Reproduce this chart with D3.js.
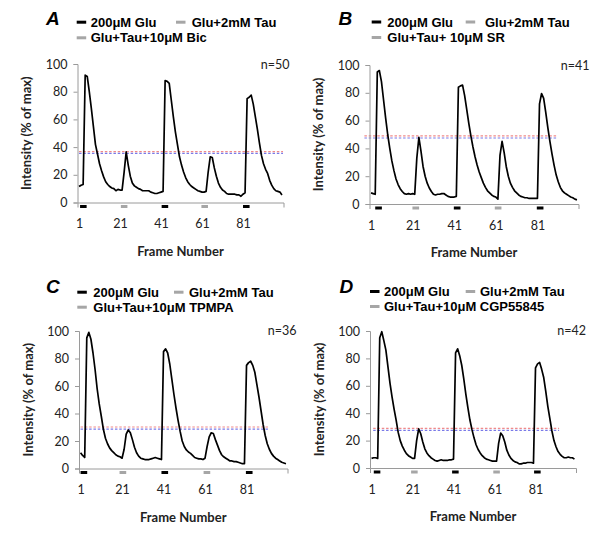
<!DOCTYPE html>
<html><head><meta charset="utf-8">
<script src="https://cdn.jsdelivr.net/npm/d3@7/dist/d3.min.js"></script>
<style>body{margin:0;background:#fff} svg{display:block}</style>
</head><body><svg id="c" width="600" height="542"></svg>
<script>
const panelLetters = ["A", "B", "C", "D"];
const nLabels = ["n=50", "n=41", "n=36", "n=42"];
const legendGlu = "200μM Glu";
const legendTau = "Glu+2mM Tau";
const legendDrug = ["Glu+Tau+10μM Bic", "Glu+Tau+ 10μM SR", "Glu+Tau+10μM TPMPA", "Glu+Tau+10μM CGP55845"];
const xTickValues = [1, 21, 41, 61, 81];
const yTickValues = [0, 20, 40, 60, 80, 100];
const xTitle = "Frame Number";
const yTitle = "Intensity (% of max)";

const seriesA = [11.5,12.5,13,92,91,80,68,55,42,35, 28,23,18.5,15,13,11.5,10.5,10,8.5,9.5, 9,9,22,36.5,27,19,14,12,11,10, 9.5,8.5,8.5,8.5,8.5,7.5,7,6.5,6.5,7, 7.5,8,88,87.5,86,74,62,51,42,33, 27,22,18,15,13,11.5,10.5,9.5,8.5,8, 7.5,7.5,8,22,33,32.5,25,19,14,11, 9,8,6.5,6,6,6,6,5.5,5.5,4.5, 6,7,75,76,77.5,71,62,53,43,34, 28,24,21,16,12.5,10,8.5,8,7.5,5.5];
const seriesB = [8,7.5,7,95,96,88,75,62,50,40, 31,24,18,14,11,9,7.5,7,7.5,7, 7.5,7,33,48,38,27,20,15,11.5,9, 7,6.5,7,7,7.5,7.5,6.5,5.5,5,5, 5,5.5,84,85,85.5,78,68,58,49,41, 34,28,23,19,15,12,9.5,8,6.5,5.5, 5,3.5,35,45,37,27,20,15,12,9.5, 8,6.5,5.5,5,4.5,4.5,4,4,4,4, 4,72,79.5,76,66,55,45,36,28,21, 16,12,9.5,8,7,6,5,4.5,3.5,3];
const seriesC = [11.5,9.5,8,95,99,94,84,72,58,47, 38,28.5,22,18,15,13,11.5,10,9,8.5, 7.5,14,25,28,26,21,15.5,11.5,9,7.5, 7,6.5,6.5,6.5,7,7.5,8,7.5,7,6.5, 85,87,84,76,65,54,44,35,27,20, 16,13.5,12,11,9.5,8,7.5,7,7,6.5, 7.5,16,23,26,25.5,21,17,13,10,8.5, 7.5,6.5,5.5,5.5,5,5,4.5,4,3.5,3.5, 75,77,78,75,70,61,52,42,32,24, 18,14,11,9,7.5,6.5,5.5,4.5,4,3.5];
const seriesD = [7,7.5,7.5,7,95,99.5,93,86,74,62, 52,43,35,26,20,16,13,10.5,9,8, 7,7,20,28.5,25,19,14,11,9,7.5, 6.5,5.5,5,5.5,6,5.5,5.5,5.5,6,6, 6.5,84,87,82,75,65,54,44,35,28, 22,17,13.5,11,9,7.5,6.5,6,5.5,5, 5,5,18,25.5,23.5,19,13,9.5,7,5.5, 4.5,4,3,3,3.5,3.5,4,4,4,3.5, 73,76,77,72,66,56,45,36,27,20, 15.5,12,10,8.5,7.5,7.5,8,7.5,7.5,6.5];

const thresholdRed = [36.7, 49, 30.2, 28.9];
const thresholdBlue = [35.5, 47.5, 28.7, 27.4];
const thresholdSpan = [[1, 100.5], [-2.2, 90.8], [1, 92], [1.8, 92.5]];
const stimStarts = [[1.5, 21.4, 41.3, 60.7, 81], [3, 20.9, 40.8, 60.5, 80.7], [1, 19.8, 40, 60.3, 80.7], [2.1, 20.3, 40.3, 60.4, 80.3]];
const stimTypes = ["Glu", "Tau", "Glu", "Tau", "Glu"];
const stimDuration = 3.2;
const frameDomain = [0.25, 100.75];

const allSeries = [seriesA, seriesB, seriesC, seriesD];

// layout (pixel positions)
const layout = [
  {L:77.5, R:283.5, B:202.5, T:64, letterX:46, letterY:25, dashX:76.7, textX:90.7, tauDash:176, tauText:191.7, row1:26.7, row2:42.3, nX:289.5, nY:68.5},
  {L:369.5, R:578.5, B:204, T:65, letterX:338.5, letterY:24.5, dashX:371.7, textX:387.3, tauDash:465.7, tauText:485, row1:26.5, row2:42, nX:589.5, nY:69.5},
  {L:79, R:287.5, B:468.5, T:331, letterX:46, letterY:293.3, dashX:77.3, textX:93.3, tauDash:174, tauText:189, row1:296.7, row2:311.7, nX:296.5, nY:334.5},
  {L:370, R:576, B:468, T:331, letterX:339.5, letterY:293.3, dashX:370, textX:384, tauDash:465.7, tauText:480, row1:296, row2:311, nX:586, nY:334.5}
];

const svg = d3.select("#c");
const axisColor = "#9a9a9a";
const grayMark = "#a6a6a6";
const sansC = "Lato, 'Open Sans', sans-serif";
const sansA = "'Liberation Sans', Arial, sans-serif";

allSeries.forEach((series, p) => {
  const lo = layout[p];
  const g = svg.append("g");
  const x = d3.scaleLinear().domain(frameDomain).range([lo.L, lo.R]);
  const y = d3.scaleLinear().domain([0, 100]).range([lo.B, lo.T]);

  // Legend
  g.append("text").attr("x", lo.letterX).attr("y", lo.letterY)
    .attr("font-family", sansA).attr("font-weight", "bold").attr("font-style", "italic")
    .attr("font-size", 19).text(panelLetters[p]);
  const legendItems = [
    {dx: lo.dashX, tx: lo.textX, y: lo.row1, color: "#000", label: legendGlu},
    {dx: lo.tauDash, tx: lo.tauText, y: lo.row1, color: grayMark, label: legendTau},
    {dx: lo.dashX, tx: lo.textX, y: lo.row2, color: grayMark, label: legendDrug[p]}
  ];
  legendItems.forEach(it => {
    g.append("rect").attr("x", it.dx).attr("y", it.y - 6).attr("width", 9.5).attr("height", 3).attr("fill", it.color);
    g.append("text").attr("x", it.tx).attr("y", it.y)
      .attr("font-family", sansA).attr("font-weight", "bold").attr("font-size", 13).text(it.label);
  });

  // n label
  g.append("text").attr("x", lo.nX).attr("y", lo.nY).attr("text-anchor", "end")
    .attr("font-family", sansC).attr("font-size", 12.5).attr("fill", "#222").text(nLabels[p]);

  // threshold lines
  const span = thresholdSpan[p];
  g.append("line").attr("x1", x(span[0])).attr("x2", x(span[1]))
    .attr("y1", y(thresholdRed[p])).attr("y2", y(thresholdRed[p]))
    .attr("stroke", "#f08a8a").attr("stroke-width", 1.2).attr("stroke-dasharray", "2.5,1.8");
  g.append("line").attr("x1", x(span[0])).attr("x2", x(span[1]))
    .attr("y1", y(thresholdBlue[p])).attr("y2", y(thresholdBlue[p]))
    .attr("stroke", "#7a7ae8").attr("stroke-width", 1.2).attr("stroke-dasharray", "2.5,1.8");

  // axes
  const yAxis = d3.axisLeft(y).tickValues(yTickValues).tickSize(4).tickPadding(6);
  const gy = g.append("g").attr("transform", `translate(${lo.L},0)`).call(yAxis);
  const xAxis = d3.axisBottom(x).tickValues(xTickValues).tickSizeInner(0).tickSizeOuter(5).tickPadding(17);
  const gx = g.append("g").attr("transform", `translate(0,${lo.B})`).call(xAxis);
  [gx, gy].forEach(ax => {
    ax.selectAll("path, line").attr("stroke", axisColor);
    ax.selectAll("text").attr("font-family", sansC).attr("font-size", 12.5).attr("fill", "#222");
  });

  // stimulus markers
  g.selectAll("rect.stim").data(stimStarts[p]).enter().append("rect")
    .attr("class", "stim")
    .attr("x", d => x(d)).attr("width", d => x(d + stimDuration) - x(d))
    .attr("y", lo.B + 2.5).attr("height", 3)
    .attr("fill", (d, i) => stimTypes[i] === "Glu" ? "#000" : grayMark);

  // trace
  const line = d3.line().x((d, i) => x(i + 1)).y(d => y(d)).curve(d3.curveLinear);
  g.append("path").datum(series).attr("d", line)
    .attr("fill", "none").attr("stroke", "#000").attr("stroke-width", 1.7).attr("stroke-linejoin", "round");

  // axis titles
  g.append("text").attr("x", (lo.L + lo.R) / 2).attr("y", lo.B + 53).attr("text-anchor", "middle")
    .attr("font-family", sansC).attr("font-weight", "bold").attr("font-size", 13).attr("fill", "#222").text(xTitle);
  g.append("text").attr("transform", `translate(${lo.L - 46.5},${(lo.B + lo.T) / 2}) rotate(-90)`)
    .attr("text-anchor", "middle")
    .attr("font-family", sansC).attr("font-weight", "bold").attr("font-size", 13).attr("fill", "#222").text(yTitle);
});
</script>
</body></html>
